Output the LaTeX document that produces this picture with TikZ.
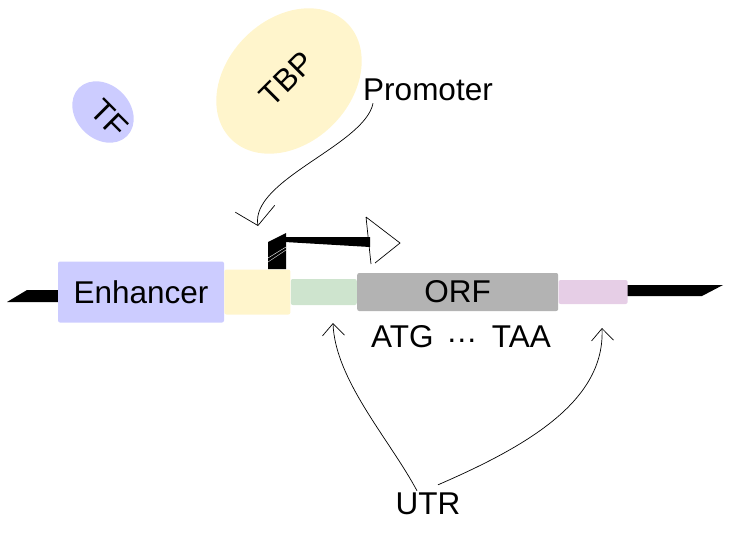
\documentclass[tikz,border=0pt]{standalone}
\usepackage{fontspec}
\setmainfont{Liberation Sans}
\usetikzlibrary{positioning,shapes.geometric,arrows.meta}

\definecolor{enhcol}{RGB}{204,204,255}
\definecolor{tbpcol}{RGB}{255,245,204}
\definecolor{fiveutr}{RGB}{206,228,206}
\definecolor{orfcol}{RGB}{179,179,179}
\definecolor{threeutr}{RGB}{230,206,230}

\newcommand*{\bigtext}{\fontsize{31.5}{36}\selectfont}
\newcommand*{\midy}{292}

\begin{document}
\begin{tikzpicture}
[
	x=1pt,
	y=-1pt,
	txt/.style={font=\bigtext,inner sep=2pt},
	box/.style={rectangle,rounded corners=2pt,inner sep=0pt,font=\bigtext},
	blob/.style={ellipse,inner sep=0pt,font=\bigtext},
	hand/.style={-{Straight Barb[length=12pt,width=22pt]},line width=0.7pt}
]

	\useasboundingbox (0,0) rectangle (744,557);

	% DNA ends
	\fill (7,302) -- (27,290) -- (58,290) -- (58,302) -- cycle;
	\fill (626,285) -- (723,285) -- (702,296) -- (626,296) -- cycle;

	% regions
	\node[box,fill=enhcol,minimum width=166pt,minimum height=61pt] (enh) at (141,\midy) {Enhancer};
	\node[box,fill=tbpcol,minimum width=66pt,minimum height=45pt,right=0pt of enh] (prombox) {};
	\node[box,fill=fiveutr,minimum width=66pt,minimum height=26pt,right=0pt of prombox] (five) {};
	\node[box,fill=orfcol,minimum width=201pt,minimum height=38pt,right=0pt of five] (orf) {ORF\hspace{14pt}};
	\node[box,fill=threeutr,minimum width=69pt,minimum height=24pt,right=0pt of orf] (three) {};

	% transcription start
	\fill (268,242) -- (286,233) -- (286,269) -- (268,269) -- cycle;
	\draw[white,line width=0.4pt] (268,258) -- (286,247) (268,262) -- (286,250);
	\fill (285,237) -- (370,237) -- (370,247) -- (285,242) -- cycle;
	\draw[line width=0.7pt] (366,217) -- (400,243) -- (375,263) (366,217) -- (371,264);

	% factors
	\node[blob,fill=enhcol,minimum width=68pt,minimum height=54pt,rotate=-45] (tf) at (103,112) {\makebox[38pt][l]{\hspace{9pt}TF}};
	\node[blob,fill=tbpcol,minimum width=164pt,minimum height=124pt,rotate=45] (tbp) at (289,81) {\raisebox{6pt}{TBP}};

	% labels
	\node[txt] (prom) at (428,90) {Promoter};
	\node[txt] (codons) at (461,337) {ATG\hspace{0.4em}\raisebox{0.17em}{…}\hspace{0.45em}TAA};
	\node[txt] (utr) at (428,504) {UTR};

	% pointers
	\coordinate (tss) at (258,226);
	\coordinate (fiveend) at (333,323);
	\coordinate (threeend) at (602,328);
	\draw[hand,-{Straight Barb[length=17pt,width=40pt]}] ([xshift=12pt]prom.south west) .. controls (365,145) and (250,180) .. (tss);
	\draw[hand] ([xshift=-11pt]utr.north) .. controls (390,440) and (335,380) .. (fiveend);
	\draw[hand] ([xshift=10pt,yshift=6pt]utr.north) .. controls (530,445) and (605,400) .. (threeend);

\end{tikzpicture}
\end{document}
